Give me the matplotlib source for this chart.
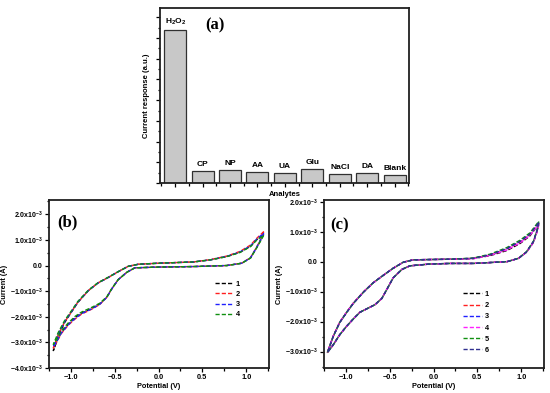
import matplotlib
matplotlib.use("Agg")
import matplotlib.pyplot as plt
from matplotlib.ticker import MultipleLocator, FuncFormatter

plt.rcParams['font.family'] = ['Liberation Sans', 'DejaVu Sans']
plt.rcParams['font.weight'] = 'bold'
plt.rcParams['mathtext.fontset'] = 'custom'
plt.rcParams['mathtext.rm'] = 'Liberation Sans:bold'
plt.rcParams['mathtext.bf'] = 'Liberation Sans:bold'
plt.rcParams['mathtext.default'] = 'bf'

# (a) selectivity bars
analytes = ['H$_2$O$_2$', 'CP', 'NP', 'AA', 'UA', 'Glu', 'NaCl', 'DA', 'Blank']
response = [7.39, 0.58, 0.63, 0.53, 0.48, 0.68, 0.43, 0.48, 0.39]

# (b) CV loops, current in units of 1e-3 A
pot_b = [1.20, 1.18, 1.12, 1.05, 0.95, 0.78, 0.40, 0.00, -0.27, -0.36, -0.46,
         -0.535, -0.59, -0.67, -0.76, -0.88, -0.95, -1.03, -1.11, -1.16, -1.20,
         -1.145, -1.07, -0.99, -0.92, -0.80, -0.69, -0.57, -0.46, -0.345, -0.23,
         0.00, 0.40, 0.59, 0.78, 0.93, 1.05, 1.12, 1.20]
cur_b1 = [1.22, 1.08, 0.70, 0.30, 0.09, 0.00, -0.04, -0.06, -0.09, -0.26, -0.55,
          -0.92, -1.24, -1.50, -1.67, -1.86, -2.03, -2.29, -2.62, -2.95, -3.32,
          -2.75, -2.22, -1.80, -1.44, -0.98, -0.68, -0.46, -0.24, -0.03, 0.05,
          0.09, 0.14, 0.22, 0.35, 0.52, 0.75, 1.01, 1.22]
cur_b2 = [1.32, 1.12, 0.72, 0.31, 0.09, 0.00, -0.04, -0.06, -0.09, -0.26, -0.55,
          -0.92, -1.24, -1.52, -1.70, -1.90, -2.08, -2.33, -2.66, -2.98, -3.22,
          -2.70, -2.20, -1.79, -1.43, -0.98, -0.68, -0.46, -0.24, -0.03, 0.05,
          0.09, 0.14, 0.23, 0.37, 0.55, 0.80, 1.06, 1.32]
cur_b3 = [1.26, 1.10, 0.71, 0.30, 0.09, 0.00, -0.04, -0.06, -0.09, -0.26, -0.55,
          -0.92, -1.24, -1.51, -1.69, -1.88, -2.06, -2.31, -2.64, -2.96, -3.18,
          -2.68, -2.18, -1.78, -1.42, -0.97, -0.68, -0.46, -0.24, -0.03, 0.05,
          0.09, 0.14, 0.22, 0.36, 0.53, 0.77, 1.03, 1.26]
cur_b4 = [1.18, 1.05, 0.69, 0.29, 0.09, 0.00, -0.04, -0.06, -0.09, -0.26, -0.55,
          -0.91, -1.22, -1.47, -1.63, -1.82, -1.98, -2.24, -2.56, -2.88, -3.08,
          -2.62, -2.14, -1.75, -1.40, -0.96, -0.67, -0.45, -0.24, -0.03, 0.05,
          0.09, 0.14, 0.22, 0.35, 0.51, 0.74, 0.99, 1.18]

# (c) CV loops, current in units of 1e-3 A
pot_c = [1.20, 1.19, 1.14, 1.06, 0.97, 0.84, 0.46, 0.19, -0.04, -0.27, -0.36,
         -0.46, -0.535, -0.59, -0.67, -0.745, -0.84, -0.917, -0.99, -1.07, -1.145,
         -1.21, -1.145, -1.07, -0.99, -0.917, -0.80, -0.69, -0.57, -0.46, -0.345,
         -0.23, -0.04, 0.19, 0.455, 0.646, 0.837, 0.99, 1.10, 1.20]
cur_c1 = [1.24, 1.08, 0.64, 0.31, 0.11, 0.00, -0.06, -0.06, -0.08, -0.14, -0.26,
          -0.54, -0.94, -1.23, -1.44, -1.55, -1.69, -1.92, -2.15, -2.44, -2.78,
          -3.03, -2.50, -2.03, -1.69, -1.40, -1.02, -0.71, -0.45, -0.22, -0.02,
          0.06, 0.07, 0.08, 0.10, 0.20, 0.37, 0.61, 0.86, 1.24]
cur_c2 = [1.28, 1.10, 0.66, 0.32, 0.11, 0.00, -0.06, -0.06, -0.08, -0.14, -0.26,
          -0.54, -0.94, -1.23, -1.44, -1.55, -1.69, -1.92, -2.15, -2.44, -2.78,
          -3.02, -2.49, -2.02, -1.68, -1.39, -1.01, -0.71, -0.45, -0.22, -0.02,
          0.06, 0.07, 0.08, 0.11, 0.22, 0.41, 0.65, 0.90, 1.28]
cur_c3 = [1.30, 1.12, 0.67, 0.32, 0.11, 0.00, -0.06, -0.06, -0.08, -0.14, -0.26,
          -0.54, -0.94, -1.23, -1.44, -1.55, -1.69, -1.92, -2.15, -2.44, -2.78,
          -3.03, -2.50, -2.03, -1.69, -1.40, -1.02, -0.71, -0.45, -0.22, -0.02,
          0.06, 0.07, 0.08, 0.11, 0.23, 0.43, 0.68, 0.92, 1.30]
cur_c4 = [1.22, 1.07, 0.64, 0.31, 0.11, 0.00, -0.06, -0.06, -0.08, -0.14, -0.26,
          -0.54, -0.94, -1.23, -1.44, -1.55, -1.69, -1.92, -2.15, -2.44, -2.78,
          -3.02, -2.49, -2.02, -1.68, -1.39, -1.01, -0.71, -0.45, -0.22, -0.02,
          0.06, 0.07, 0.08, 0.10, 0.21, 0.39, 0.63, 0.88, 1.22]
cur_c5 = [1.34, 1.14, 0.68, 0.33, 0.11, 0.00, -0.06, -0.06, -0.08, -0.14, -0.26,
          -0.54, -0.94, -1.23, -1.44, -1.55, -1.69, -1.92, -2.15, -2.44, -2.78,
          -3.03, -2.50, -2.03, -1.69, -1.40, -1.02, -0.71, -0.45, -0.22, -0.02,
          0.06, 0.07, 0.08, 0.12, 0.25, 0.47, 0.72, 0.96, 1.34]
cur_c6 = [1.30, 1.12, 0.67, 0.32, 0.11, 0.00, -0.06, -0.06, -0.08, -0.14, -0.26,
          -0.54, -0.94, -1.23, -1.44, -1.55, -1.69, -1.92, -2.15, -2.44, -2.78,
          -3.03, -2.50, -2.03, -1.69, -1.40, -1.02, -0.71, -0.45, -0.22, -0.02,
          0.06, 0.07, 0.08, 0.11, 0.23, 0.44, 0.68, 0.92, 1.30]

labels_b = ['1', '2', '3', '4']
colors_b = ['black', '#ff2020', '#2020ff', '#109010']
labels_c = ['1', '2', '3', '4', '5', '6']
colors_c = ['black', '#ff2020', '#2020ff', '#ff20ff', '#109010', '#303090']


def sci_fmt(v, pos):
    if abs(v) < 1e-9:
        return '0.0'
    return r'$%.1f\mathrm{x}10^{-3}$' % v


def style_axes(ax):
    for s in ax.spines.values():
        s.set_linewidth(1.3)
        s.set_color('#202020')
    ax.tick_params(which='both', direction='out', top=False, right=False,
                   labelsize=5.3, width=0.9, pad=1.5)
    ax.tick_params(axis='y', labelsize=5.0)
    ax.tick_params(which='major', length=3)
    ax.tick_params(which='minor', length=1.8)


fig = plt.figure(figsize=(5.5, 3.93), dpi=100)

# ---- (a)
ax_a = fig.add_axes([0.291, 0.534, 0.453, 0.446])
xpos = list(range(len(analytes)))
ax_a.bar(xpos, response, width=0.8, color='#c8c8c8', edgecolor='#303030', linewidth=0.9)
for x, v, lab in zip(xpos, response, analytes):
    ax_a.text(x, v + 0.15, lab, ha='center', va='bottom', fontsize=6, fontweight='bold')
ax_a.set_xlim(-0.55, 8.53)
ax_a.set_ylim(0, 8.45)
ax_a.set_xticks(xpos)
ax_a.set_xticklabels([])
ax_a.xaxis.set_minor_locator(MultipleLocator(0.5))
ax_a.yaxis.set_major_locator(MultipleLocator(1))
ax_a.yaxis.set_minor_locator(MultipleLocator(0.5))
ax_a.set_yticklabels([])
style_axes(ax_a)
ax_a.set_ylabel('Current response (a.u.)', fontsize=5.5, fontweight='bold', labelpad=3)
ax_a.set_xlabel('Analytes', fontsize=5.5, fontweight='bold', labelpad=1)
ax_a.text(0.18, 0.90, '(a)', transform=ax_a.transAxes, fontsize=12,
          fontweight='bold', family='Liberation Serif', va='center')

# ---- (b)
ax_b = fig.add_axes([0.089, 0.0636, 0.400, 0.427])
for cur, c, lab in zip([cur_b1, cur_b2, cur_b3, cur_b4], colors_b, labels_b):
    ax_b.plot(pot_b, cur, color=c, lw=1.0, linestyle=(0, (3, 1.5)), label=lab)
ax_b.set_xlim(-1.25, 1.26)
ax_b.set_ylim(-4.0, 2.55)
ax_b.xaxis.set_major_locator(MultipleLocator(0.5))
ax_b.xaxis.set_minor_locator(MultipleLocator(0.25))
ax_b.yaxis.set_major_locator(MultipleLocator(1))
ax_b.yaxis.set_minor_locator(MultipleLocator(0.5))
ax_b.yaxis.set_major_formatter(FuncFormatter(sci_fmt))
style_axes(ax_b)
ax_b.set_xlabel('Potential (V)', fontsize=5.3, fontweight='bold', labelpad=1)
ax_b.set_ylabel('Current (A)', fontsize=5.3, fontweight='bold')
ax_b.yaxis.set_label_coords(-0.185, 0.5)
ax_b.text(0.04, 0.87, '(b)', transform=ax_b.transAxes, fontsize=12,
          fontweight='bold', family='Liberation Serif', va='center')
ax_b.legend(loc='upper left', bbox_to_anchor=(0.755, 0.52), frameon=False,
            fontsize=5.3, handlelength=2.4, handletextpad=0.4, labelspacing=0.4,
            borderaxespad=0, borderpad=0)

# ---- (c)
ax_c = fig.add_axes([0.589, 0.0636, 0.400, 0.427])
for cur, c, lab in zip([cur_c1, cur_c2, cur_c3, cur_c4, cur_c5, cur_c6], colors_c, labels_c):
    ax_c.plot(pot_c, cur, color=c, lw=1.0, linestyle=(0, (3, 1.5)), label=lab)
ax_c.set_xlim(-1.25, 1.26)
ax_c.set_ylim(-3.55, 2.05)
ax_c.xaxis.set_major_locator(MultipleLocator(0.5))
ax_c.xaxis.set_minor_locator(MultipleLocator(0.25))
ax_c.yaxis.set_major_locator(MultipleLocator(1))
ax_c.yaxis.set_minor_locator(MultipleLocator(0.5))
ax_c.yaxis.set_major_formatter(FuncFormatter(sci_fmt))
style_axes(ax_c)
ax_c.set_xlabel('Potential (V)', fontsize=5.3, fontweight='bold', labelpad=1)
ax_c.set_ylabel('Current (A)', fontsize=5.3, fontweight='bold')
ax_c.yaxis.set_label_coords(-0.185, 0.5)
ax_c.text(0.03, 0.85, '(c)', transform=ax_c.transAxes, fontsize=12,
          fontweight='bold', family='Liberation Serif', va='center')
ax_c.legend(loc='upper left', bbox_to_anchor=(0.63, 0.46), frameon=False,
            fontsize=5.3, handlelength=2.6, handletextpad=0.4, labelspacing=0.55,
            borderaxespad=0, borderpad=0)

fig.savefig('out.png', dpi=100)
